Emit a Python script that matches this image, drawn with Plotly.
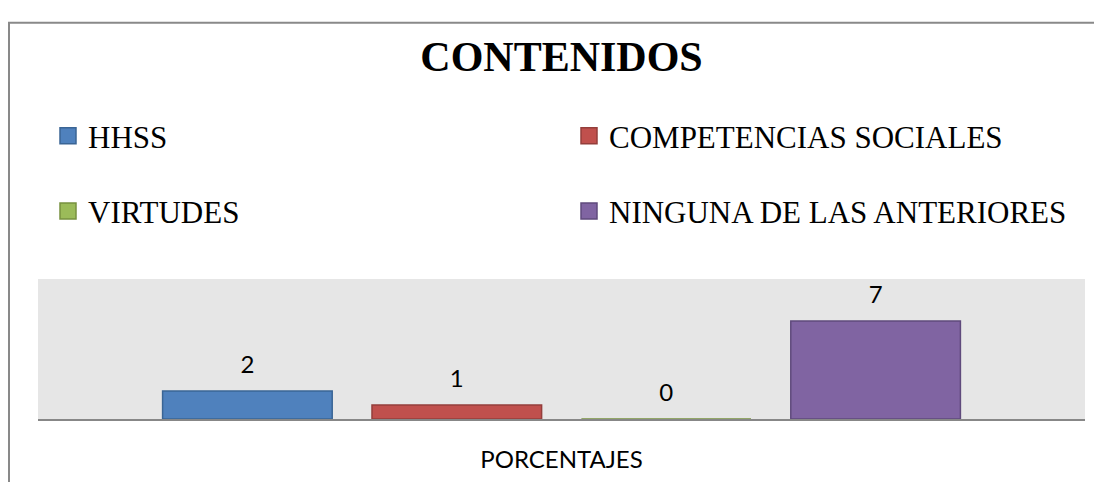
import plotly.graph_objects as go

category = ["PORCENTAJES"]
series_names = ["HHSS", "COMPETENCIAS SOCIALES", "VIRTUDES", "NINGUNA DE LAS ANTERIORES"]
series_values = [[2], [1], [0], [7]]
fill_colors = ["#4F81BD", "#C0504D", "#9BBB59", "#8064A2"]
line_colors = ["#3A6595", "#943E3B", "#77913F", "#5F4A7C"]
legend_ids = ["legend", "legend", "legend2", "legend2"]

label_font = dict(family="Lato", size=24, color="#000000")

fig = go.Figure()
for name, vals, fc, lc, lg in zip(series_names, series_values, fill_colors, line_colors, legend_ids):
    fig.add_trace(go.Bar(
        x=category, y=vals, name=name, offsetgroup=name, showlegend=False,
        marker=dict(color=fc, line=dict(color=lc, width=1.5)),
        cliponaxis=False,
    ))
    # value labels, aligned with their bar
    fig.add_trace(go.Scatter(
        x=category, y=vals, mode="markers+text", offsetgroup=name,
        marker=dict(size=18, opacity=0), text=[str(v) for v in vals],
        textposition="top center", textfont=label_font,
        showlegend=False, hoverinfo="skip", cliponaxis=False,
    ))
    # legend entry (square swatch)
    fig.add_trace(go.Scatter(
        x=[None], y=[None], mode="markers", name=name, legend=lg,
        marker=dict(symbol="square", size=16, color=fc, line=dict(color=lc, width=1.5)),
    ))

# page has an 8px body margin: figure sits at (8, 8) in the window;
# keep the figure inside the window so the page does not overflow
OFF = 8
W, H = 1102 - 2 * OFF, 490 - 2 * OFF
L, R, T = 38 - OFF, (1102 - OFF) - 1085, 279 - OFF
B = (490 - OFF) - 426
pw, ph = W - L - R, H - T - B

def px_x(p):
    return (p - OFF - L) / pw

def px_y(p):
    return (H - B - (p - OFF)) / ph

legend_font = dict(family="Liberation Serif", size=31, color="#000000")
bx0, by0 = px_x(9), px_y(10)
bx1, by1 = px_x(1130), px_y(530)

fig.update_layout(
    width=W, height=H,
    margin=dict(l=L, r=R, t=T, b=B),
    paper_bgcolor="#FFFFFF",
    plot_bgcolor="#E6E6E6",
    barmode="group",
    scattermode="group",
    bargap=0.2,
    scattergap=0.2,
    bargroupgap=0.19,
    title=dict(text="<b>CONTENIDOS</b>", xref="paper", x=0.5, xanchor="center",
               y=1 - (56 - OFF) / H, yanchor="middle",
               font=dict(family="Liberation Serif", size=42, color="#000000")),
    legend=dict(orientation="h", x=px_x(48), xanchor="left", y=px_y(129), yanchor="middle",
                entrywidth=476, font=legend_font, bgcolor="rgba(0,0,0,0)", itemsizing="trace"),
    legend2=dict(orientation="h", x=px_x(48), xanchor="left", y=px_y(208), yanchor="middle",
                 entrywidth=476, font=legend_font, bgcolor="rgba(0,0,0,0)", itemsizing="trace"),
    xaxis=dict(showline=True, linecolor="#878787", linewidth=2, ticks="", showgrid=False,
               tickfont=dict(family="Lato", size=24, color="#000000"), ticklabelstandoff=18),
    yaxis=dict(range=[0, 10], visible=False, showgrid=False, zeroline=False),
    shapes=[dict(type="path", xref="paper", yref="paper",
                 path=f"M {bx0},{by1} L {bx0},{by0} L {bx1},{by0}",
                 line=dict(color="#898989", width=2), layer="below")],
    showlegend=True,
)

fig.write_html("out.html")
